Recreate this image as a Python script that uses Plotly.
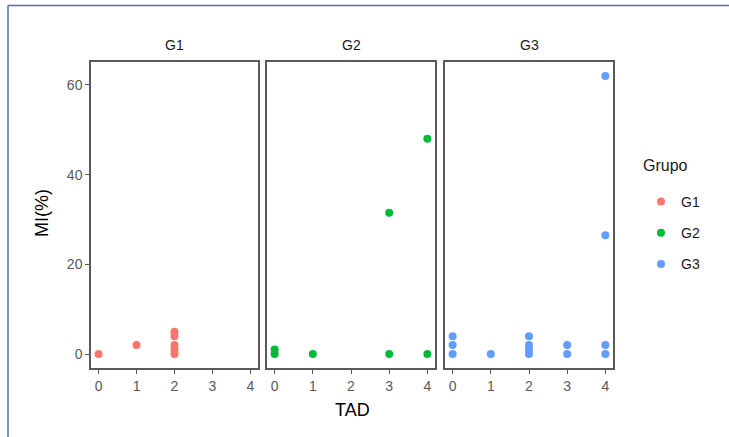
import plotly.graph_objects as go

W, H = 729, 437

groups = ["G1", "G2", "G3"]
colors = ["#F8766D", "#00BA38", "#619CFF"]

tad_g1 = [0, 1, 2, 2, 2, 2, 2]
mi_g1 = [0, 2, 0, 1, 2, 4, 5]
tad_g2 = [0, 0, 1, 3, 3, 4, 4]
mi_g2 = [0, 1, 0, 0, 31.5, 0, 48]
tad_g3 = [0, 0, 0, 1, 2, 2, 2, 2, 3, 3, 4, 4, 4, 4]
mi_g3 = [0, 2, 4, 0, 0, 1, 2, 4, 0, 2, 0, 2, 26.5, 62]

x_ticks = [0, 1, 2, 3, 4]
y_ticks = [0, 20, 40, 60]

data = [(tad_g1, mi_g1), (tad_g2, mi_g2), (tad_g3, mi_g3)]

# panel pixel positions
panels_x = [(91, 258), (267, 435), (445, 613)]
panel_top, panel_bot = 62, 368

FONT = "Liberation Sans, Arial, sans-serif"

def px(x):
    return x / W

def py(y):
    return 1 - y / H

fig = go.Figure()
for i, (g, c, (xs, ys)) in enumerate(zip(groups, colors, data)):
    sfx = "" if i == 0 else str(i + 1)
    fig.add_trace(go.Scatter(
        x=xs, y=ys, mode="markers", name=g,
        marker=dict(color=c, size=8, line=dict(width=0)),
        xaxis="x" + sfx, yaxis="y" + sfx,
        legendgroup=g, showlegend=True,
    ))

axis_common = dict(
    showgrid=False, zeroline=False, showline=True, mirror=True,
    linecolor="#5a5a5a", linewidth=1.5,
    ticks="outside", ticklen=4, tickwidth=1, tickcolor="#5a5a5a",
    tickfont=dict(family=FONT, size=14, color="#5a5a5a"),
    automargin=False, fixedrange=True,
)

layout = dict(
    width=W, height=H,
    margin=dict(l=0, r=0, t=0, b=0),
    paper_bgcolor="white", plot_bgcolor="white",
    font=dict(family=FONT),
    showlegend=True,
    legend=dict(
        x=px(641), y=py(186), xanchor="left", yanchor="top",
        font=dict(size=14, color="#1a1a1a"),
        traceorder="grouped", tracegroupgap=10,
        bgcolor="rgba(0,0,0,0)",
    ),
)

for i in range(3):
    sfx = "" if i == 0 else str(i + 1)
    x0, x1 = panels_x[i]
    xa = dict(axis_common)
    xa.update(domain=[px(x0), px(x1)], range=[-0.2, 4.2],
              tickvals=x_ticks, ticktext=[str(t) for t in x_ticks],
              anchor="y" + sfx)
    ya = dict(axis_common)
    ya.update(domain=[py(panel_bot), py(panel_top)], range=[-3.1, 65.1],
              tickvals=y_ticks, anchor="x" + sfx)
    if i > 0:
        ya.update(showticklabels=False, ticks="", matches="y")
    layout["xaxis" + sfx] = xa
    layout["yaxis" + sfx] = ya

annotations = []
for i, g in enumerate(groups):
    x0, x1 = panels_x[i]
    annotations.append(dict(
        text=g, x=px((x0 + x1) / 2), y=py(45), xref="paper", yref="paper",
        showarrow=False, xanchor="center", yanchor="middle",
        font=dict(size=14, color="#1a1a1a"),
    ))
annotations.append(dict(
    text="TAD", x=px(352), y=py(410), xref="paper", yref="paper",
    showarrow=False, xanchor="center", yanchor="middle",
    font=dict(size=18, color="#000000"),
))
annotations.append(dict(
    text="MI(%)", x=px(42), y=py(213), xref="paper", yref="paper",
    showarrow=False, xanchor="center", yanchor="middle", textangle=-90,
    font=dict(size=18, color="#000000"),
))
annotations.append(dict(
    text="Grupo", x=px(641), y=py(165), xref="paper", yref="paper",
    showarrow=False, xanchor="left", yanchor="middle",
    font=dict(size=16, color="#1a1a1a"),
))
layout["annotations"] = annotations

# blue outer frame
layout["shapes"] = [
    dict(type="line", xref="paper", yref="paper", x0=px(8), x1=1.01, y0=py(5.5), y1=py(5.5),
         line=dict(color="#4472C4", width=1.5)),
    dict(type="line", xref="paper", yref="paper", x0=px(8), x1=px(8), y0=py(5.5), y1=-0.01,
         line=dict(color="#4472C4", width=1.5)),
]

fig.update_layout(**layout)
fig.write_html(
    "out.html",
    config={"displayModeBar": False},
    post_script="document.body.style.margin='0';document.body.style.overflow='hidden';",
)
